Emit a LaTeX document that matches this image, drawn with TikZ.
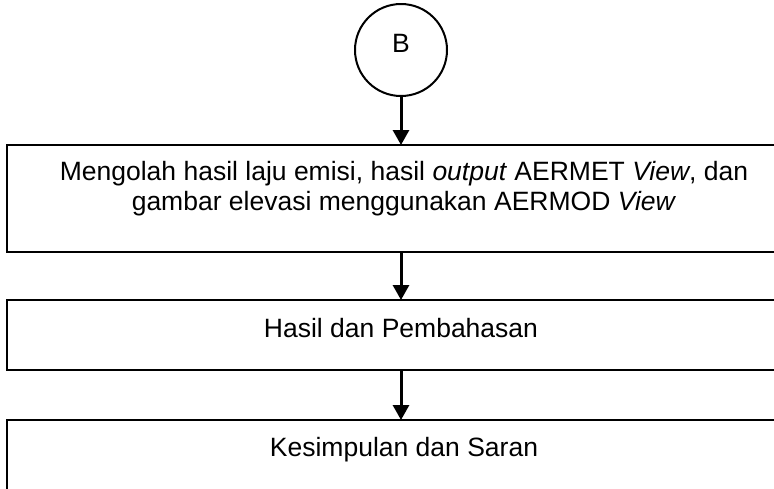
\documentclass[tikz,border=0pt]{standalone}
\usepackage{fontspec}
\setmainfont{Liberation Sans}
\usetikzlibrary{arrows.meta}
\begin{document}
\begin{tikzpicture}[x=1pt,y=-1pt,
  boxline/.style={draw=black,line width=2pt},
  flowarrow/.style={line width=3pt,-{Triangle[width=16pt,length=15pt]},shorten >=-1pt},
  label/.style={font=\fontsize{26.5}{30}\selectfont,inner sep=0pt,align=center}]
\useasboundingbox (0,0) rectangle (774,488);
\clip (0,0) rectangle (774,488);
\node[boxline,circle,minimum size=92pt,inner sep=0pt] (B) at (401,50) {};
\node[label,anchor=base] (Btxt) at (401,52) {B};
\node[boxline,rectangle,minimum width=794pt,minimum height=107pt,inner sep=0pt] (box1) at (404,198.5) {};
\node[label,anchor=north] (t1) at (404,161) {Mengolah hasil laju emisi, hasil \emph{output} AERMET \emph{View}, dan\\gambar elevasi menggunakan AERMOD \emph{View}};
\node[boxline,rectangle,minimum width=794pt,minimum height=70pt,inner sep=0pt] (box2) at (404,335) {};
\node[label,anchor=base] (t2) at (401,337) {Hasil dan Pembahasan};
\node[boxline,rectangle,minimum width=794pt,minimum height=100pt,inner sep=0pt] (box3) at (404,470) {};
\node[label,anchor=base] (t3) at (404,456) {Kesimpulan dan Saran};
\draw[flowarrow] (B.south) -- (box1.north -| B.south);
\draw[flowarrow] (box1.south -| B.south) -- (box2.north -| B.south);
\draw[flowarrow] (box2.south -| B.south) -- (box3.north -| B.south);
\end{tikzpicture}
\end{document}
